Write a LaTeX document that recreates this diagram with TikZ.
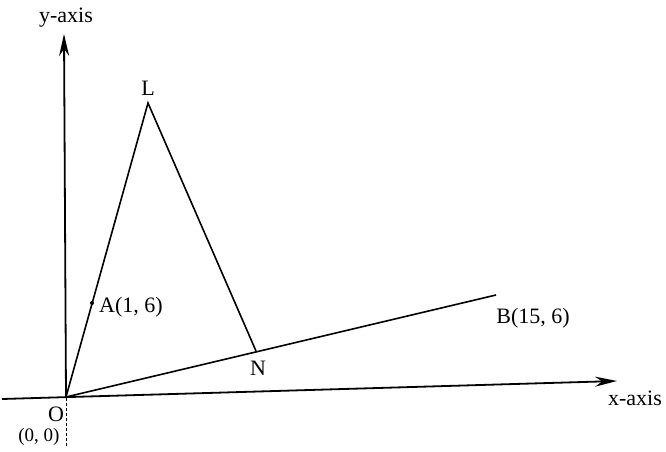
\documentclass[tikz,border=0pt]{standalone}
\usepackage{fontspec}
\setmainfont{Liberation Serif}
\usetikzlibrary{arrows.meta}
\begin{document}
\begin{tikzpicture}[x=1pt,y=-1pt,
  lbl/.style={inner sep=0pt,font=\fontsize{22}{25}\selectfont},
  axis/.style={line width=1.8pt,-{Stealth[length=22pt,width=10pt]}},
  seg/.style={line width=1.6pt}]
\useasboundingbox (0,0) rectangle (666,452);
\coordinate (O) at (66,397);
\coordinate (L) at (148,103);
\coordinate (N) at (256,351);
\coordinate (B) at (496,295);
\coordinate (A) at (92,303);
\coordinate (xs) at (2,399);
\coordinate (xe) at (617,381);
\coordinate (ys) at (66,446);
\coordinate (ye) at (64,34);
% axes
\draw[line width=0.8pt,densely dashed] (ys) -- (O);
\draw[axis] (O) -- (ye);
\draw[axis] (xs) -- (xe);
% triangle and segment
\draw[seg,line join=miter] (O) -- (L) -- (N);
\draw[seg] (O) -- (B);
\fill (A) circle (2pt);
% labels
\node[lbl] (ly) at (66,18) {y-axis};
\node[lbl] (lx) at (635,398) {x-axis};
\node[lbl] (lL) at (148,88) {L};
\node[lbl] (lN) at (258,368) {N};
\node[lbl] (lB) at (533,318) {B(15, 6)};
\node[lbl] (lA) at (131,307) {A(1, 6)};
\node[lbl] (lO) at (56,414) {O};
\node[lbl,font=\fontsize{19}{22}\selectfont] (lO2) at (39,437) {(0, 0)};
\end{tikzpicture}
\end{document}
